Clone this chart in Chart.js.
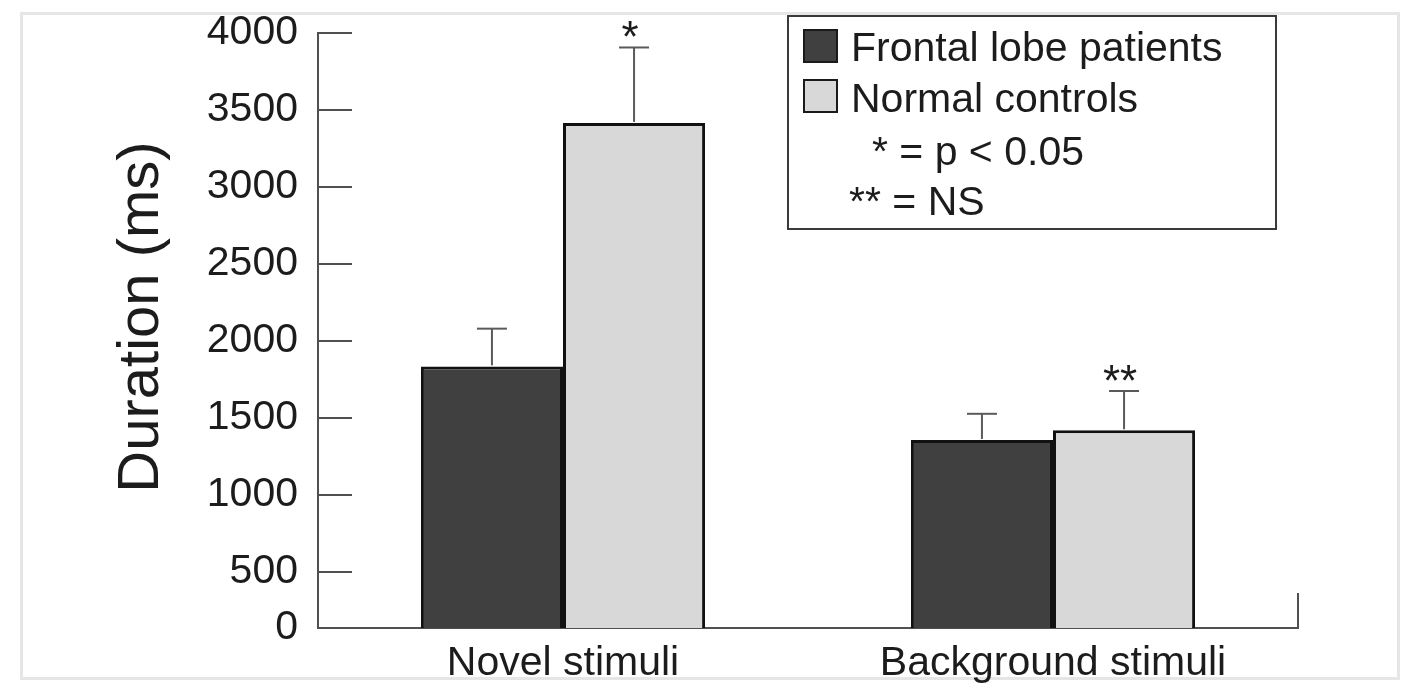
<!DOCTYPE html>
<html>
<head>
<meta charset="utf-8">
<script src="https://cdn.jsdelivr.net/npm/chart.js@4.4.1/dist/chart.umd.min.js"></script>
<style>
  html, body { margin: 0; padding: 0; background: #fff; }
  #wrap { width: 1406px; height: 687px; }
</style>
</head>
<body>
<div id="wrap"><canvas id="c" width="1406" height="687"></canvas></div>
<script>
// ---- data ----
const categories = ['Novel stimuli', 'Background stimuli'];
const seriesNames = ['Frontal lobe patients', 'Normal controls'];
const frontalValues = [1835, 1357];
const frontalErrors = [245, 170];
const controlValues = [3416, 1420];
const controlErrors = [490, 255];
const controlMarks = ['*', '**'];
const yTickValues = [136, 500, 1000, 1500, 2000, 2500, 3000, 3500, 4000];
const yTickLabels = ['0', '500', '1000', '1500', '2000', '2500', '3000', '3500', '4000'];
const legendNotes = ['* = p < 0.05', '** = NS'];
const yTitle = 'Duration (ms)';

const FONT = '"Liberation Sans", Arial, Helvetica, sans-serif';
const TEXT = '#1c1c1c';
const AXIS = '#505050';
const DARK = '#404040';
const LIGHT = '#d8d8d8';

Chart.defaults.font.family = FONT;
Chart.defaults.color = TEXT;

function line(ctx, x1, y1, x2, y2) {
  ctx.beginPath(); ctx.moveTo(x1, y1); ctx.lineTo(x2, y2); ctx.stroke();
}

const decor = {
  id: 'decor',
  beforeDraw(chart) {
    const ctx = chart.ctx;
    ctx.save();
    ctx.fillStyle = '#ffffff';
    ctx.fillRect(0, 0, chart.width, chart.height);
    ctx.strokeStyle = '#e6e6e6';
    ctx.lineWidth = 3;
    ctx.strokeRect(21.5, 13.5, 1377, 665);
    ctx.restore();
  },
  afterDatasetsDraw(chart) {
    const ctx = chart.ctx, y = chart.scales.y, ca = chart.chartArea;
    ctx.save();
    ctx.strokeStyle = AXIS;
    ctx.lineWidth = 2;
    // inward y ticks
    yTickValues.forEach((v, i) => {
      if (i === 0) return;
      const py = Math.round(y.getPixelForValue(v));
      line(ctx, ca.left, py, ca.left + 34, py);
    });
    // right end tick
    line(ctx, ca.right, ca.bottom, ca.right, ca.bottom - 35);
    // error bars (upper only)
    ctx.strokeStyle = '#5a5a5a';
    chart.data.datasets.forEach((ds, di) => {
      const meta = chart.getDatasetMeta(di);
      meta.data.forEach((bar, i) => {
        const top = y.getPixelForValue(ds.data[i] + ds.errors[i]);
        line(ctx, bar.x, bar.y - 1, bar.x, top);
        line(ctx, bar.x - 15, top, bar.x + 15, top);
        if (ds.marks) {
          ctx.fillStyle = TEXT;
          ctx.font = '44px ' + FONT;
          ctx.textAlign = 'center';
          ctx.textBaseline = 'alphabetic';
          ctx.fillText(ds.marks[i], bar.x - 4, top + 5);
        }
      });
    });
    ctx.restore();
  },
  afterDraw(chart) {
    const ctx = chart.ctx;
    ctx.save();
    // y axis title
    ctx.translate(142, 317);
    ctx.rotate(-Math.PI / 2);
    ctx.fillStyle = TEXT;
    ctx.font = '58px ' + FONT;
    ctx.textAlign = 'center';
    ctx.textBaseline = 'middle';
    ctx.fillText(yTitle, 0, 0);
    ctx.restore();

    // legend
    ctx.save();
    ctx.strokeStyle = '#3a3a3a';
    ctx.lineWidth = 2;
    ctx.strokeRect(788, 16, 488, 213);
    const fills = [DARK, LIGHT];
    const boxY = [30, 80];
    const textY = [61, 112];
    ctx.font = '41px ' + FONT;
    ctx.textAlign = 'left';
    ctx.textBaseline = 'alphabetic';
    seriesNames.forEach((name, i) => {
      ctx.fillStyle = fills[i];
      ctx.fillRect(804, boxY[i], 33, 32);
      ctx.strokeStyle = '#1a1a1a';
      ctx.strokeRect(804, boxY[i], 33, 32);
      ctx.fillStyle = TEXT;
      ctx.fillText(name, 851, textY[i]);
    });
    ctx.fillText(legendNotes[0], 872, 165);
    ctx.fillText(legendNotes[1], 849, 215);
    ctx.restore();
  }
};

new Chart(document.getElementById('c'), {
  type: 'bar',
  data: {
    labels: categories,
    datasets: [
      {
        label: seriesNames[0],
        data: frontalValues,
        errors: frontalErrors,
        backgroundColor: DARK,
        borderColor: '#111111',
        borderWidth: 3,
        borderSkipped: false
      },
      {
        label: seriesNames[1],
        data: controlValues,
        errors: controlErrors,
        marks: controlMarks,
        backgroundColor: LIGHT,
        borderColor: '#111111',
        borderWidth: 3,
        borderSkipped: false
      }
    ]
  },
  options: {
    responsive: false,
    animation: false,
    events: [],
    layout: { padding: { top: 33, right: 108, left: 0, bottom: 0 } },
    plugins: { legend: { display: false }, tooltip: { enabled: false } },
    datasets: { bar: { categoryPercentage: 0.58, barPercentage: 1.0 } },
    scales: {
      x: {
        offset: true,
        grid: { display: true, drawOnChartArea: false, drawTicks: false },
        border: { display: true, color: AXIS, width: 2 },
        ticks: { font: { size: 41 }, color: TEXT, padding: 11, maxRotation: 0, autoSkip: false },
        afterFit(scale) { scale.height = 59; }
      },
      y: {
        min: yTickValues[0],
        max: yTickValues[yTickValues.length - 1],
        grid: { display: true, drawOnChartArea: false, drawTicks: true, tickLength: 20, tickColor: 'rgba(0,0,0,0)' },
        border: { display: true, color: AXIS, width: 2 },
        ticks: {
          font: { size: 41 },
          color: TEXT,
          padding: 0,
          autoSkip: false,
          callback: (v, i) => yTickLabels[i]
        },
        afterBuildTicks(scale) { scale.ticks = yTickValues.map(v => ({ value: v })); },
        afterFit(scale) { scale.width = 318; }
      }
    }
  },
  plugins: [decor]
});
</script>
</body>
</html>
